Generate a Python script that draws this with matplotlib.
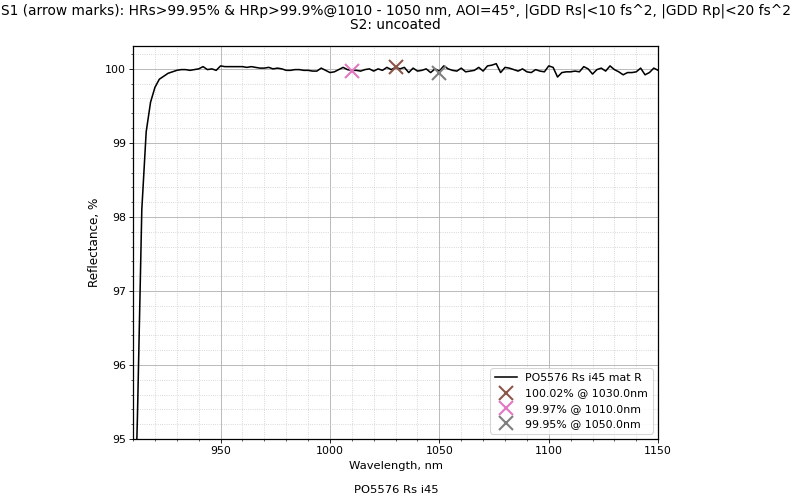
import matplotlib
matplotlib.use("Agg")
import matplotlib.pyplot as plt
from matplotlib.ticker import MultipleLocator

plt.rcParams["font.size"] = 11

# measured curve (2 nm steps)
wavelength = list(range(910, 1152, 2))
reflectance = [
    93.0, 95.3, 98.1, 99.15, 99.55, 99.75, 99.86, 99.9, 99.94, 99.96,   # 910-928
    99.98, 99.99, 99.99, 99.98, 99.99, 100.0, 100.03, 99.99, 100.0, 99.98,  # 930-948
    100.04, 100.03, 100.03, 100.03, 100.03, 100.03, 100.02, 100.03, 100.02, 100.01,  # 950-968
    100.01, 100.02, 100.0, 100.01, 100.0, 99.98, 99.98, 99.99, 99.99, 99.98,  # 970-988
    99.98, 99.97, 99.97, 100.01, 99.98, 99.95, 99.96, 99.99, 100.02, 99.99,  # 990-1008
    99.98, 99.98, 99.97, 99.99, 100.0, 99.97, 100.0, 99.98, 100.02, 99.99,  # 1010-1028
    100.02, 100.0, 100.02, 99.95, 100.01, 99.97, 99.98, 100.0, 99.95, 100.0,  # 1030-1048
    99.97, 100.04, 100.0, 99.98, 99.97, 100.01, 99.96, 99.97, 99.98, 100.02,  # 1050-1068
    99.97, 100.04, 100.05, 100.07, 99.95, 100.02, 100.01, 99.99, 99.97, 100.0,  # 1070-1088
    99.96, 99.95, 99.99, 99.97, 99.96, 100.04, 100.02, 99.89, 99.95, 99.96,  # 1090-1108
    99.96, 99.97, 99.96, 100.03, 100.0, 99.93, 99.99, 100.01, 99.97, 100.04,  # 1110-1128
    99.99, 99.96, 99.92, 99.95, 99.95, 99.96, 100.01, 99.92, 99.95, 100.01,  # 1130-1148
    99.98,  # 1150
]

# marked points
mark_wl = [1030.0, 1010.0, 1050.0]
mark_r = [100.02, 99.97, 99.95]
mark_colors = ["tab:brown", "tab:pink", "tab:gray"]

fig = plt.figure(figsize=(792 / 75, 499 / 75), dpi=75)
ax = fig.add_axes([0.168, 0.120, 0.663, 0.788])

ax.plot(wavelength, reflectance, color="black", label="PO5576 Rs i45 mat R")
for w, r, c in zip(mark_wl, mark_r, mark_colors):
    ax.plot(w, r, "x", color=c, markersize=13, markeredgewidth=2,
            label=f"{r:.2f}% @ {w:.1f}nm")

ax.set_xlim(910, 1150)
ax.set_ylim(95, 100.31)
ax.xaxis.set_major_locator(MultipleLocator(50))
ax.xaxis.set_minor_locator(MultipleLocator(10))
ax.yaxis.set_major_locator(MultipleLocator(1))
ax.yaxis.set_minor_locator(MultipleLocator(0.2))
ax.tick_params(labelsize=10.5)
ax.grid(which="major", color="#b0b0b0", linewidth=0.8)
ax.grid(which="minor", color="#cccccc", linestyle=":", linewidth=0.8)
for s in ax.spines.values():
    s.set_linewidth(1.2)

ax.set_xlabel("Wavelength, nm")
ax.set_ylabel("Reflectance, %", fontsize=11.5)
ax.set_title("S1 (arrow marks): HRs>99.95% & HRp>99.9%@1010 - 1050 nm, AOI=45°, "
             "|GDD Rs|<10 fs^2, |GDD Rp|<20 fs^2\nS2: uncoated",
             linespacing=1.05, pad=16)
ax.legend(loc="lower right", fontsize=10.5)

fig.text(0.5, 0.008, "PO5576 Rs i45", ha="center", va="bottom")

fig.savefig("out.png", dpi=75)
